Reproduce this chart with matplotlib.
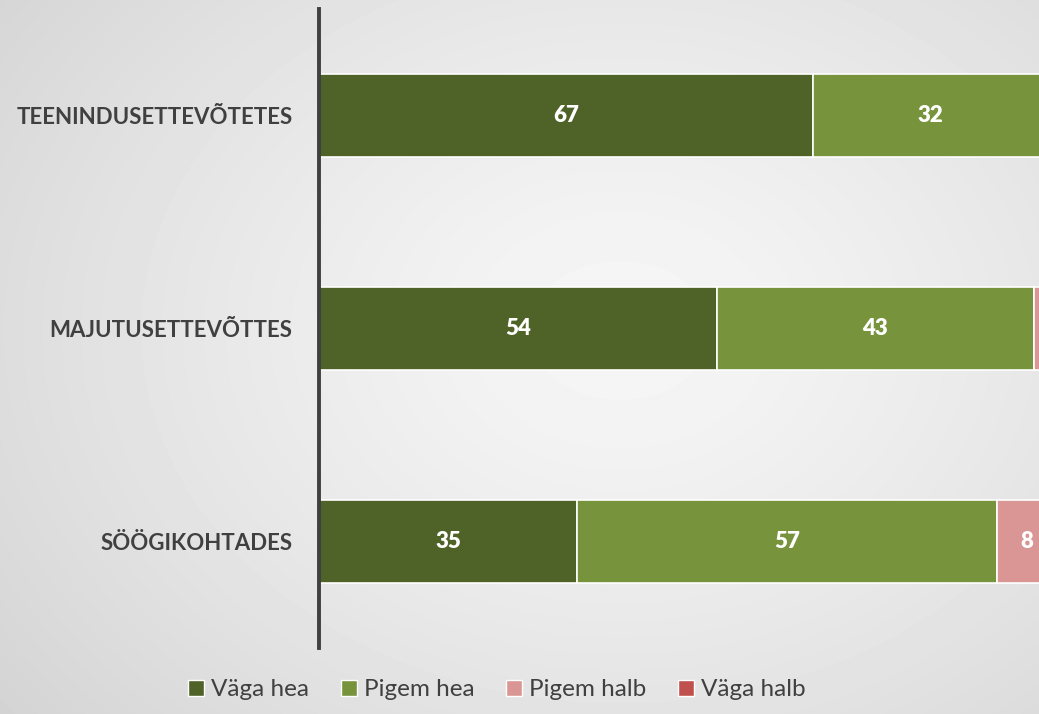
import numpy as np
import matplotlib.pyplot as plt
from matplotlib.patches import Patch

categories = ['TEENINDUSETTEVÕTETES', 'MAJUTUSETTEVÕTTES', 'SÖÖGIKOHTADES']
series = ['Väga hea', 'Pigem hea', 'Pigem halb', 'Väga halb']
values = [
    [67, 54, 35],   # Väga hea
    [32, 43, 57],   # Pigem hea
    [1, 3, 8],      # Pigem halb
    [0, 0, 0],      # Väga halb
]
colors = ['#4F6228', '#77933C', '#D99694', '#C0504D']

plt.rcParams['font.family'] = ['Lato', 'DejaVu Sans']

fig = plt.figure(figsize=(10.39, 7.14), dpi=100)

# radial gradient background
bg = fig.add_axes([0, 0, 1, 1], zorder=-10)
yy, xx = np.mgrid[0:714, 0:1039]
r = np.sqrt(((xx - 620) / 900.0) ** 2 + ((yy - 330) / 700.0) ** 2)
shade = 0.965 - 0.16 * np.clip(r, 0, 1) ** 1.3
bg.imshow(shade, cmap='gray', vmin=0, vmax=1, aspect='auto', interpolation='bilinear')
bg.axis('off')

ax = fig.add_axes([319 / 1039, 1 - 648 / 714, 720 / 1039, 639 / 714])
ax.patch.set_alpha(0)
xmax = 97.7

ypos = np.arange(len(categories))
left = np.zeros(len(categories))
for name, vals, col in zip(series, values, colors):
    vals = np.array(vals, dtype=float)
    ax.barh(ypos, vals, left=left, height=0.39, color=col,
            edgecolor='white', linewidth=1.2, label=name)
    for y, v, l in zip(ypos, vals, left):
        # labels whose centre falls outside the visible range are cut in the original
        if v > 0 and l + v / 2 < xmax - 0.8:
            ax.text(l + v / 2, y, '%d' % v, ha='center', va='center',
                    color='white', fontsize=16, fontweight='heavy', clip_on=True)
    left += vals

ax.set_xlim(0, xmax)
ax.set_ylim(2.5, -0.5)
ax.set_yticks(ypos)
ax.set_yticklabels(categories, fontsize=16, fontweight='bold', color='#404040')
ax.tick_params(axis='y', length=0, pad=19)
ax.set_xticks([])
for s in ['top', 'right', 'bottom']:
    ax.spines[s].set_visible(False)
ax.spines['left'].set_color('#404040')
ax.spines['left'].set_linewidth(2.8)

handles = [Patch(facecolor=c, edgecolor='white', label=n) for n, c in zip(series, colors)]
fig.legend(handles=handles, loc='center', bbox_to_anchor=(497 / 1039, 1 - 690 / 714),
           ncol=4, frameon=False, fontsize=17.5, handlelength=0.65, handleheight=0.65,
           handletextpad=0.3, columnspacing=1.3, labelcolor='#404040')

fig.savefig('out.png', dpi=100)
